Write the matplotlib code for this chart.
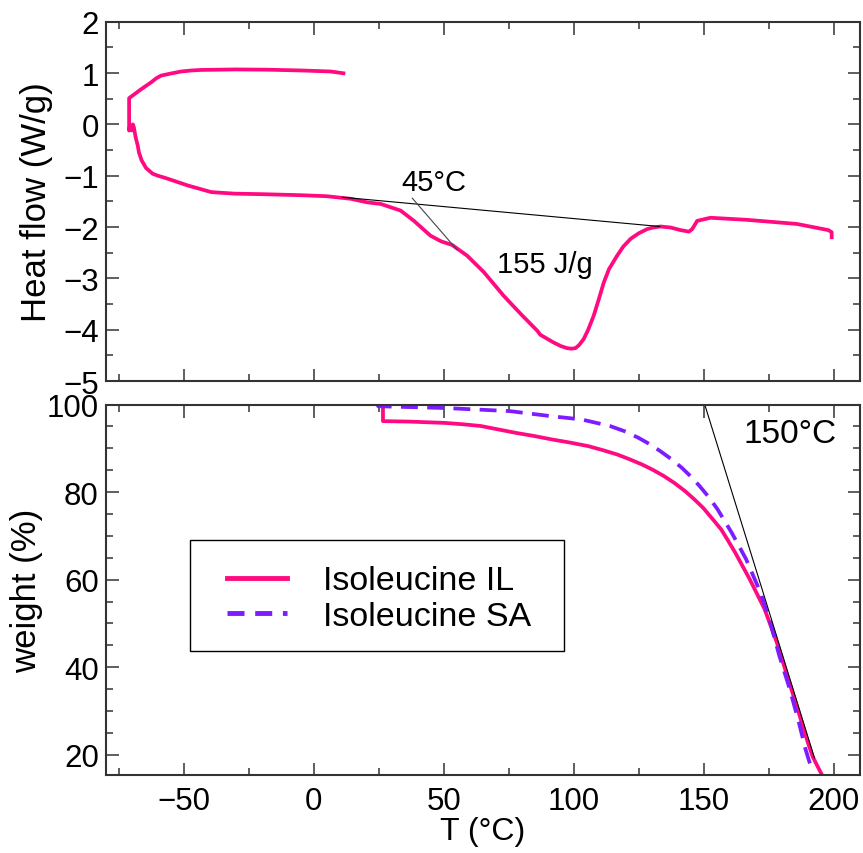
import matplotlib
matplotlib.use("Agg")
import matplotlib.pyplot as plt
from matplotlib.ticker import MultipleLocator
from matplotlib.patches import Rectangle
from matplotlib.lines import Line2D

plt.rcParams['font.family'] = ['Liberation Sans', 'DejaVu Sans']

PINK = '#ff0a80'
PURPLE = '#7c1cff'

# DSC curve (T in degC, heat flow W/g)
dsc_T = [11.4, 6.5, -5, -17.8, -30, -43.4, -47, -51.0, -55, -58.7, -60.5, -62.5,
         -66.5, -71.0,
         -71.0, -70.6, -70.3, -70.0, -69.6, -69.2, -68.5, -67.7, -67.2, -66.2,
         -64.5, -62.0, -60, -58, -56.1, -48.5, -39.4, -30.4, -20, -5, 5, 14.2,
         20.6, 25.7, 33.4, 38.5, 44.9, 49, 53.2, 59.0, 65.4, 73.0, 79.5, 85.9,
         87.1, 92.2, 95, 97.4, 99, 100.6, 102, 103.8, 105.5, 107.6, 109.5,
         111.5, 113.5, 116.6, 119, 121.8, 125, 128.2, 130.5, 133.3, 137.2,
         141.0, 144.2, 145.5, 147.4, 152.5, 166.5, 185.7, 197.8, 199.1, 199.1]
dsc_H = [0.995, 1.03, 1.05, 1.065, 1.07, 1.06, 1.05, 1.03, 0.99, 0.95, 0.90,
         0.82, 0.68, 0.51,
         -0.12, -0.02, -0.10, -0.12, 0.0, -0.05, -0.25, -0.41, -0.55, -0.70,
         -0.85, -0.96, -1.00, -1.03, -1.06, -1.19, -1.32, -1.35, -1.36, -1.38,
         -1.40, -1.45, -1.52, -1.55, -1.68, -1.88, -2.17, -2.28, -2.35, -2.56,
         -2.88, -3.34, -3.69, -4.02, -4.10, -4.25, -4.32, -4.36, -4.37, -4.36,
         -4.30, -4.18, -4.00, -3.73, -3.42, -3.08, -2.82, -2.56, -2.38, -2.23,
         -2.12, -2.04, -2.01, -1.99, -2.01, -2.06, -2.09, -2.04, -1.88, -1.82,
         -1.86, -1.94, -2.06, -2.10, -2.20]

# DSC construction lines
base_T = [11.0, 133.0]
base_H = [-1.42, -1.99]
tan1_T = [37.9, 55.0]
tan1_H = [-1.44, -2.44]

# TGA curves (T in degC, weight %)
il_T = [26.6, 26.6, 36.6, 50.3, 57.0, 64.1, 71.0, 77.9, 84.8, 91.7, 98.6,
        105.5, 111.0, 116.6, 121.4, 126.2, 130.3, 134.5, 138.6, 142.8, 146.2,
        149.7, 153.1, 156.6, 159.3, 162.1, 167.6, 173.3, 178.0, 182.4, 186.0,
        189.9, 191.8, 193.5, 195.4]
il_W = [100.0, 96.2, 96.1, 95.8, 95.5, 95.1, 94.3, 93.5, 92.8, 92.0, 91.3,
        90.5, 89.6, 88.6, 87.5, 86.3, 85.1, 83.7, 82.1, 80.2, 78.4,
        76.4, 74.0, 71.5, 68.9, 66.1, 60.1, 53.3, 45.7, 37.3, 30.5,
        22.9, 19.6, 17.6, 15.4]

sa_T = [24.1, 24.8, 50.3, 75.2, 91.7, 102.8, 113.8, 119.5, 124.8, 129.0,
        133.1, 137.3, 141.4, 144.9, 148.3, 151.8, 155.2, 160.7, 166.2, 171.7,
        175.5, 179.0, 183.0, 186.5, 189.0, 190.6, 192.0]
sa_W = [100.3, 99.6, 99.2, 98.5, 97.3, 96.6, 95.1, 93.9, 92.4, 91.0,
        89.4, 87.6, 85.6, 83.6, 81.4, 78.9, 76.1, 70.7, 64.7, 57.1,
        50.2, 42.6, 35.0, 27.4, 21.4, 18.3, 16.3]

tan2_T = [150.3, 192.5]
tan2_W = [100.0, 19.3]

labels = ['Isoleucine IL', 'Isoleucine SA']

fig = plt.figure(figsize=(8.63, 8.54), dpi=100)
W, H = 863, 854
x0, x1 = 105.7, 860
ax1 = fig.add_axes([x0 / W, 1 - 382 / H, (x1 - x0) / W, (382 - 22.7) / H])
ax2 = fig.add_axes([x0 / W, 1 - 776 / H, (x1 - x0) / W, (776 - 405.5) / H])

SP = '#333333'
for ax in (ax1, ax2):
    ax.set_xlim(-80, 210)
    ax.xaxis.set_major_locator(MultipleLocator(50))
    ax.xaxis.set_minor_locator(MultipleLocator(25))
    ax.tick_params(which='both', direction='in', top=True, right=True,
                   labelsize=22.5, colors='black', width=1.1)
    ax.tick_params(which='major', length=9, color=SP)
    ax.tick_params(which='minor', length=5, color=SP)
    ax.tick_params(axis='x', pad=8)
    ax.tick_params(axis='y', pad=5)
    for s in ax.spines.values():
        s.set_linewidth(1.5)
        s.set_color(SP)

# Top: DSC
ax1.plot(dsc_T, dsc_H, color=PINK, lw=2.7, solid_joinstyle='round')
ax1.plot(base_T, base_H, color='black', lw=0.8)
ax1.plot(tan1_T, tan1_H, color='#444444', lw=0.8)
ax1.set_ylim(-5, 2)
ax1.yaxis.set_major_locator(MultipleLocator(1))
ax1.yaxis.set_minor_locator(MultipleLocator(0.5))
ax1.tick_params(axis='x', labelbottom=False)
ax1.set_ylabel('Heat flow (W/g)', fontsize=25)
ax1.yaxis.set_label_coords(-0.07, 0.5)
ax1.text(46, -1.12, '45°C', fontsize=21, ha='center', va='center')
ax1.text(89, -2.72, '155 J/g', fontsize=21, ha='center', va='center')

# Bottom: TGA
ax2.plot(il_T, il_W, color=PINK, lw=2.7, label=labels[0],
         solid_joinstyle='round')
ax2.plot(sa_T, sa_W, color=PURPLE, lw=2.7, dashes=(4.5, 2.5), label=labels[1])
ax2.plot(tan2_T, tan2_W, color='black', lw=0.8)
ax2.set_ylim(15.4, 100)
ax2.yaxis.set_major_locator(MultipleLocator(20))
ax2.yaxis.set_minor_locator(MultipleLocator(5))
ax2.set_ylabel('weight (%)', fontsize=25)
ax2.yaxis.set_label_coords(-0.083, 0.5)
ax2.set_xlabel('T (°C)', fontsize=23)
ax2.xaxis.set_label_coords(0.5, -0.112)
ax2.text(183, 93.3, '150°C', fontsize=24, ha='center', va='center')

# Legend box
bx0 = (190 - x0) / (x1 - x0)
bx1 = (564 - x0) / (x1 - x0)
by1 = (776 - 541) / (776 - 405.5)
by0 = (776 - 652) / (776 - 405.5)
ax2.add_patch(Rectangle((bx0, by0), bx1 - bx0, by1 - by0, transform=ax2.transAxes,
                        fill=False, edgecolor='black', lw=1.0, zorder=5))
handles = [Line2D([], [], color=PINK, lw=3.5),
           Line2D([], [], color=PURPLE, lw=3.5, dashes=(3.5, 2.2))]
leg = ax2.legend(handles, labels, loc='center left', frameon=False,
                 bbox_to_anchor=((227 - x0) / (x1 - x0), (by0 + by1) / 2 - 0.008),
                 fontsize=24.5, handlelength=1.76, handletextpad=1.06,
                 labelspacing=0.12, borderpad=0, borderaxespad=0)

fig.savefig('out.png', dpi=100)
